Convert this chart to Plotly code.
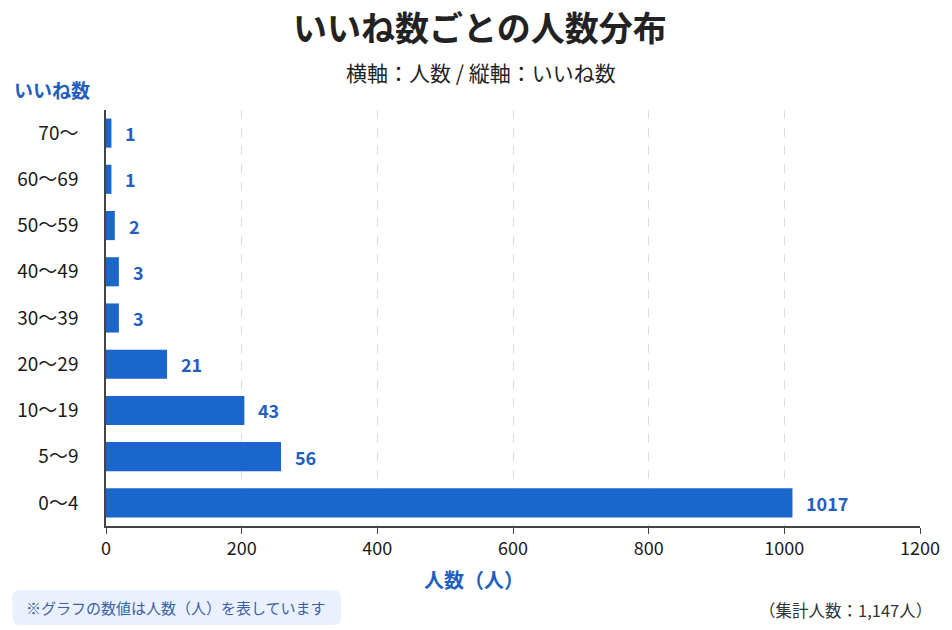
import plotly.graph_objects as go

# Data
categories = ["0〜4", "5〜9", "10〜19", "20〜29", "30〜39", "40〜49", "50〜59", "60〜69", "70〜"]
counts = [1017, 56, 43, 21, 3, 3, 2, 1, 1]
bar_lengths = [1012, 258, 204, 90, 19, 19, 13, 8, 8]
x_ticks = [0, 200, 400, 600, 800, 1000, 1200]

W, H = 952, 630
ML, MR, MT, MB = 106, 29, 110, 104
PW, PH = W - ML - MR, H - MT - MB
FONT = "Noto Sans CJK JP"
BLUE = "#1a66cc"
LBLUE = "#1f5fbf"

def px(x):
    return (x - ML) / PW

def py(y):
    return (H - MB - y) / PH

fig = go.Figure()
fig.add_trace(go.Bar(
    x=bar_lengths, y=categories, orientation="h",
    marker=dict(color=BLUE, line=dict(width=0)),
    width=0.63, hoverinfo="skip",
))

annotations = []
for c, L, n in zip(categories, bar_lengths, counts):
    annotations.append(dict(
        x=L, y=c, xref="x", yref="y", text=str(n), showarrow=False,
        xanchor="left", yanchor="middle", xshift=12,
        font=dict(family=FONT, size=18, color=LBLUE, weight=600),
    ))

annotations += [
    dict(x=px(481), y=py(27), xref="paper", yref="paper", yanchor="middle",
         text="いいね数ごとの人数分布", showarrow=False,
         font=dict(family=FONT, size=34, color="#222222", weight=700)),
    dict(x=px(482), y=py(72), xref="paper", yref="paper", yanchor="middle",
         text="横軸：人数 / 縦軸：いいね数", showarrow=False,
         font=dict(family=FONT, size=21, color="#222222", weight=400)),
    dict(x=px(12), y=py(90), xref="paper", yref="paper", xanchor="left", yanchor="middle",
         text="いいね数", showarrow=False,
         font=dict(family=FONT, size=19, color=LBLUE, weight=700)),
    dict(x=px(475), y=py(579), xref="paper", yref="paper", yanchor="middle",
         text="人数（人）", showarrow=False,
         font=dict(family=FONT, size=20, color=LBLUE, weight=700)),
    dict(x=px(24), y=py(607), xref="paper", yref="paper", xanchor="left", yanchor="middle",
         text="※グラフの数値は人数（人）を表しています", showarrow=False,
         font=dict(family=FONT, size=15, color="#3a5fa8", weight=400)),
    dict(x=px(937), y=py(610), xref="paper", yref="paper", xanchor="right", yanchor="middle",
         text="（集計人数：1,147人）", showarrow=False,
         font=dict(family=FONT, size=16.5, color="#333333", weight=400)),
]

# rounded note box
bx0, bx1, by0, by1, r = 12, 342, 590, 625, 8
path = (f"M {px(bx0 + r)} {py(by0)} L {px(bx1 - r)} {py(by0)} "
        f"Q {px(bx1)} {py(by0)} {px(bx1)} {py(by0 + r)} L {px(bx1)} {py(by1 - r)} "
        f"Q {px(bx1)} {py(by1)} {px(bx1 - r)} {py(by1)} L {px(bx0 + r)} {py(by1)} "
        f"Q {px(bx0)} {py(by1)} {px(bx0)} {py(by1 - r)} L {px(bx0)} {py(by0 + r)} "
        f"Q {px(bx0)} {py(by0)} {px(bx0 + r)} {py(by0)} Z")
shapes = [dict(type="path", path=path, xref="paper", yref="paper",
               fillcolor="#eaf1fc", line=dict(width=0), layer="below")]

fig.update_layout(
    width=W, height=H,
    margin=dict(l=ML, r=MR, t=MT, b=MB),
    paper_bgcolor="white", plot_bgcolor="white",
    showlegend=False,
    annotations=annotations, shapes=shapes,
    font=dict(family=FONT),
    xaxis=dict(
        range=[0, 1200], tickvals=x_ticks, ticktext=[str(v) for v in x_ticks],
        showgrid=True, gridcolor="#dddddd", griddash="dash", gridwidth=1,
        zeroline=False, showline=True, linecolor="#444444", linewidth=1.5,
        ticks="outside", ticklen=6, tickcolor="#444444",
        tickfont=dict(family=FONT, size=18, color="#1a1a1a", weight=400),
        fixedrange=True,
    ),
    yaxis=dict(
        categoryorder="array", categoryarray=categories, range=[-0.5, 8.5],
        showgrid=False, zeroline=False, showline=True, linecolor="#444444", linewidth=1.5,
        ticks="", ticklabelstandoff=22,
        tickfont=dict(family=FONT, size=19, color="#1a1a1a", weight=400),
        fixedrange=True,
    ),
)

fig.write_html(
    "out.html",
    config={"displayModeBar": False},
    post_script="document.body.style.margin='0';document.body.style.overflow='hidden';",
)
